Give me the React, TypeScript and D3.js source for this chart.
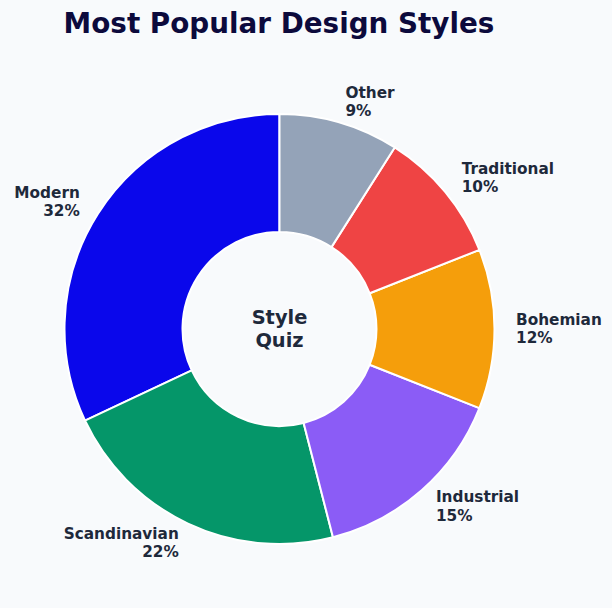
import React, { useRef, useEffect } from 'react';
import * as d3 from 'd3';

const styles = ['Modern', 'Scandinavian', 'Industrial', 'Bohemian', 'Traditional', 'Other'];
const shares = [32, 22, 15, 12, 10, 9];
const colors = ['#0a07eb', '#059669', '#8b5cf6', '#f59e0b', '#ef4444', '#94a3b8'];
const centerLines = ['Style', 'Quiz'];
const title = 'Most Popular Design Styles';

const W = 612;
const H = 608;

interface Slice {
    name: string;
    value: number;
    color: string;
}

const App: React.FC = () => {
    const svgRef = useRef<SVGSVGElement>(null);

    useEffect(() => {
        if (!svgRef.current) return;
        const svg = d3.select(svgRef.current);
        svg.selectAll('*').remove();

        const cx = 279.5;
        const cy = 329;
        const outer = 215;
        const inner = 97;
        const font = 'DejaVu Sans, sans-serif';

        svg.append('rect')
            .attr('width', W)
            .attr('height', H)
            .attr('fill', '#f8fafc');

        svg.append('text')
            .attr('x', 279)
            .attr('y', 33)
            .attr('text-anchor', 'middle')
            .attr('font-family', font)
            .attr('font-weight', 'bold')
            .attr('font-size', '27.8px')
            .attr('fill', '#0c0a3c')
            .text(title);

        const data: Slice[] = styles.map((s, i) => ({ name: s, value: shares[i], color: colors[i] }));

        // counter-clockwise from 12 o'clock
        const pie = d3.pie<Slice>()
            .sort(null)
            .value(d => d.value)
            .startAngle(0)
            .endAngle(-2 * Math.PI);

        const arc = d3.arc<d3.PieArcDatum<Slice>>()
            .innerRadius(inner)
            .outerRadius(outer);

        const g = svg.append('g').attr('transform', `translate(${cx},${cy})`);
        const arcs = pie(data);

        g.selectAll('path')
            .data(arcs)
            .enter()
            .append('path')
            .attr('d', arc)
            .attr('fill', d => d.data.color)
            .attr('stroke', 'white')
            .attr('stroke-width', 2)
            .attr('stroke-linejoin', 'round');

        const labelR = outer * 1.1;
        const fs = 15.3;
        const lh = fs * 1.2;

        arcs.forEach(d => {
            const mid = (d.startAngle + d.endAngle) / 2;
            const x = Math.sin(mid) * labelR;
            const y = -Math.cos(mid) * labelR;
            const anchor = x >= 0 ? 'start' : 'end';
            const t = g.append('text')
                .attr('font-family', font)
                .attr('font-weight', 'bold')
                .attr('font-size', `${fs}px`)
                .attr('fill', '#1e293b')
                .attr('text-anchor', anchor);
            [d.data.name, `${d.data.value}%`].forEach((line, i) => {
                t.append('tspan')
                    .attr('x', x)
                    .attr('y', y + (i - 0.5) * lh)
                    .attr('dominant-baseline', 'central')
                    .text(line);
            });
        });

        const ct = g.append('text')
            .attr('font-family', font)
            .attr('font-weight', 'bold')
            .attr('font-size', '19.4px')
            .attr('fill', '#1e293b')
            .attr('text-anchor', 'middle');
        centerLines.forEach((line, i) => {
            ct.append('tspan')
                .attr('x', 0)
                .attr('y', (i - 0.5) * 19.4 * 1.2)
                .attr('dominant-baseline', 'central')
                .text(line);
        });
    }, []);

    return (
        <div style={{ position: 'fixed', left: 0, top: 0, width: W, height: H, background: '#f8fafc' }}>
            <svg ref={svgRef} width={W} height={H} style={{ display: 'block' }} />
        </div>
    );
};

export default App;
